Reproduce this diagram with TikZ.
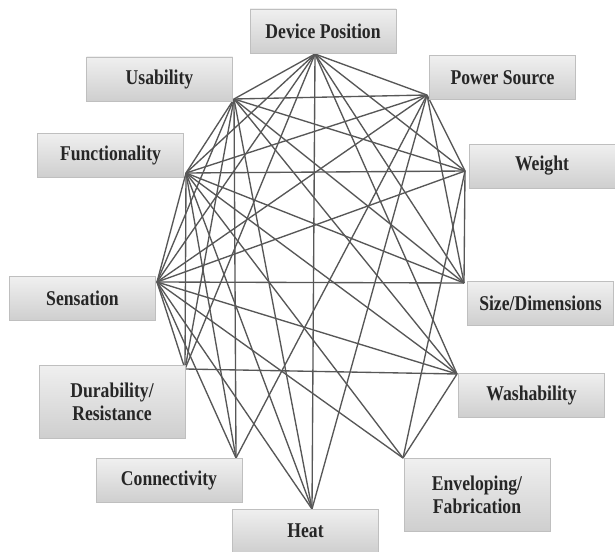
\documentclass[tikz,border=0pt]{standalone}
\usepackage{fontspec}
\setmainfont{Liberation Serif}[FakeStretch=0.84]
\begin{document}
\begin{tikzpicture}[x=1pt,y=-1pt,
  box/.style={draw=gray!50, line width=0.6pt, top color=gray!12, bottom color=gray!38,
    minimum width=146pt, minimum height=44pt, inner sep=0pt, align=center,
    font=\fontsize{21}{23}\selectfont\bfseries, text=black!85},
  tallbox/.style={box, minimum height=73pt},
  link/.style={draw=black!66, line width=1.35pt}]
\useasboundingbox (0,0) rectangle (615,551);

% connection points
\coordinate (vDP) at (315,54);
\coordinate (vUs) at (234,99);
\coordinate (vPS) at (427,95);
\coordinate (vFu) at (186,173);
\coordinate (vWe) at (465,171);
\coordinate (vSe) at (157,282);
\coordinate (vSz) at (464,283);
\coordinate (vDu) at (185,369);
\coordinate (vWa) at (457,374);
\coordinate (vCo) at (236,458);
\coordinate (vHe) at (312,509);
\coordinate (vEn) at (403,458);

% connectors
\foreach \a/\b in {DP/Us, DP/PS, DP/Fu, DP/Se, DP/Du, DP/He, DP/Wa, DP/Sz, DP/We,
  Us/PS, Us/Fu, Us/Se, Us/Du, Us/Co, Us/He, Us/We, Us/Sz, Us/Wa,
  PS/Fu, PS/Se, PS/Co, PS/He, PS/Sz, PS/We,
  Fu/We, Fu/Se, Fu/Du, Fu/Co, Fu/He, Fu/En, Fu/Wa, Fu/Sz,
  We/Se, We/Sz, We/En,
  Se/Sz, Se/Wa, Se/En, Se/He, Se/Co, Se/Du,
  Du/Wa, Wa/En}
  \draw[link] (v\a) -- (v\b);

% boxes
\node[box] (DP) at (323,31) {Device Position};
\node[box] (Us) at (159.5,79) {Usability};
\node[box] (PS) at (502.5,77.5) {Power Source};
\node[box] (Fu) at (110.5,155) {Functionality};
\node[box] (We) at (542,166) {Weight};
\node[box] (Se) at (82.5,298.5) {Sensation};
\node[box] (Sz) at (540.5,303.5) {Size/Dimensions};
\node[tallbox] (Du) at (112,401.5) {Durability/\\Resistance};
\node[box] (Wa) at (531.5,395) {Washability};
\node[box] (Co) at (169,480.5) {Connectivity};
\node[box] (He) at (305.5,531) {Heat};
\node[tallbox] (En) at (477,495) {Enveloping/\\Fabrication};
\end{tikzpicture}
\end{document}
